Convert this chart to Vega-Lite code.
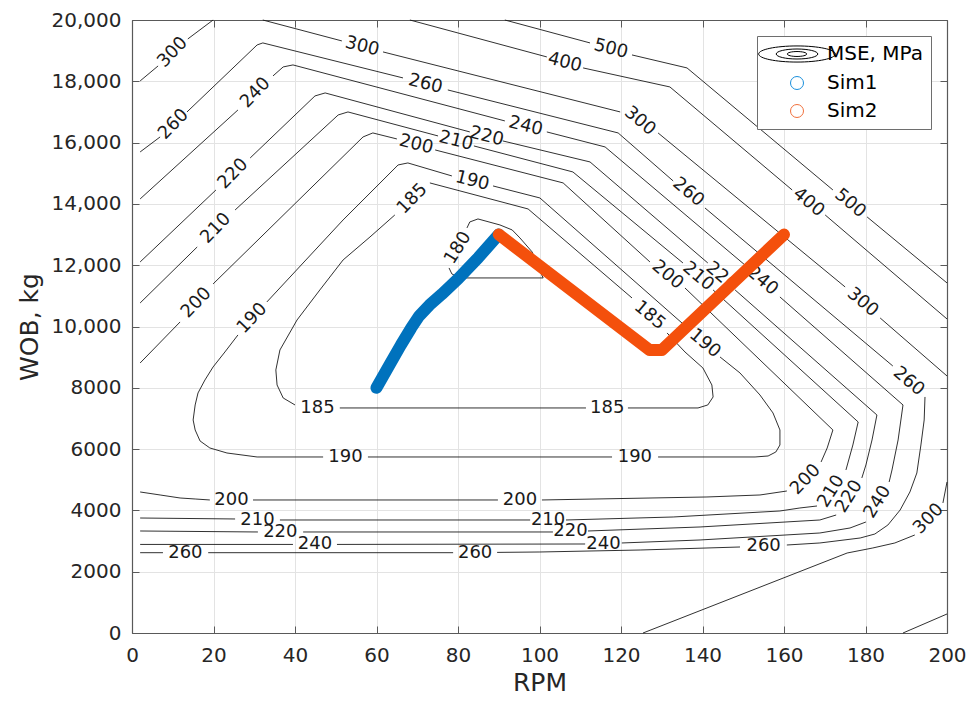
{
  "$schema": "https://vega.github.io/schema/vega-lite/v6.json",
  "width": 815,
  "height": 613,
  "autosize": {"type": "none"},
  "padding": {"left": 132, "top": 20, "right": 29, "bottom": 71},
  "background": "white",
  "config": {
    "font": "DejaVu Sans",
    "view": {"stroke": null},
    "axis": {
      "labelFont": "DejaVu Sans", "titleFont": "DejaVu Sans",
      "labelColor": "#262626", "titleColor": "#262626", "titleFontWeight": "normal",
      "domainColor": "#595959", "tickColor": "#595959", "domainWidth": 1.2, "tickWidth": 1,
      "gridColor": "#e3e3e3", "gridWidth": 1
    }
  },
  "datasets": {
    "contours": [
      {"seg":"300a","rpm":2.0,"wob":18012},{"seg":"300a","rpm":6.4,"wob":18501},
      {"seg":"300b","rpm":13.7,"wob":19382},{"seg":"300b","rpm":19.9,"wob":20000},
      {"seg":"300c","rpm":32.1,"wob":20000},{"seg":"300c","rpm":51.5,"wob":19317},
      {"seg":"300d","rpm":61.6,"wob":18958},{"seg":"300d","rpm":119.8,"wob":17000},
      {"seg":"300e","rpm":129.1,"wob":16315},{"seg":"300e","rpm":175.0,"wob":11290},
      {"seg":"300f","rpm":183.6,"wob":10278},{"seg":"300f","rpm":200,"wob":8386},
      {"seg":"300g","rpm":200,"wob":4927},{"seg":"300g","rpm":199.0,"wob":4242},
      {"seg":"300h","rpm":192.1,"wob":3198},{"seg":"300h","rpm":187.2,"wob":2937},{"seg":"300h","rpm":181.8,"wob":2774},{"seg":"300h","rpm":175.5,"wob":2610},{"seg":"300h","rpm":125.4,"wob":0},
      {"seg":"400a","rpm":68.2,"wob":20000},{"seg":"400a","rpm":101.8,"wob":18795},
      {"seg":"400b","rpm":110.7,"wob":18436},{"seg":"400b","rpm":132.0,"wob":17816},{"seg":"400b","rpm":162.0,"wob":14455},
      {"seg":"400c","rpm":170.1,"wob":13639},{"seg":"400c","rpm":200,"wob":10246},
      {"seg":"400d","rpm":189.2,"wob":0},{"seg":"400d","rpm":200,"wob":620},
      {"seg":"500a","rpm":91.5,"wob":20000},{"seg":"500a","rpm":112.4,"wob":19252},
      {"seg":"500b","rpm":122.7,"wob":18860},{"seg":"500b","rpm":136.2,"wob":18436},{"seg":"500b","rpm":172.0,"wob":14455},
      {"seg":"500c","rpm":180.4,"wob":13574},{"seg":"500c","rpm":200,"wob":11421},
      {"seg":"260a","rpm":2.0,"wob":15695},{"seg":"260a","rpm":6.9,"wob":16185},
      {"seg":"260b","rpm":13.5,"wob":17000},{"seg":"260b","rpm":30.7,"wob":19186},{"seg":"260b","rpm":32.1,"wob":19252},{"seg":"260b","rpm":66.5,"wob":18110},
      {"seg":"260c","rpm":77.5,"wob":17718},{"seg":"260c","rpm":119.3,"wob":16315},{"seg":"260c","rpm":132.8,"wob":14749},
      {"seg":"260d","rpm":140.6,"wob":13868},{"seg":"260d","rpm":186.7,"wob":8712},
      {"seg":"260e","rpm":194.6,"wob":7701},{"seg":"260e","rpm":194.4,"wob":6950},{"seg":"260e","rpm":193.6,"wob":6134},{"seg":"260e","rpm":192.6,"wob":5221},{"seg":"260e","rpm":190.9,"wob":4601},{"seg":"260e","rpm":188.5,"wob":4013},{"seg":"260e","rpm":185.5,"wob":3524},{"seg":"260e","rpm":182.3,"wob":3230},{"seg":"260e","rpm":178.7,"wob":3100},{"seg":"260e","rpm":168.8,"wob":2937},{"seg":"260e","rpm":160.7,"wob":2871},
      {"seg":"260f","rpm":149.2,"wob":2806},{"seg":"260f","rpm":124.7,"wob":2708},{"seg":"260f","rpm":100.1,"wob":2643},{"seg":"260f","rpm":89.6,"wob":2630},
      {"seg":"260g","rpm":78.8,"wob":2620},{"seg":"260g","rpm":18.7,"wob":2620},
      {"seg":"260h","rpm":7.6,"wob":2620},{"seg":"260h","rpm":2.0,"wob":2620},
      {"seg":"240a","rpm":2.0,"wob":14162},{"seg":"240a","rpm":26.0,"wob":17065},
      {"seg":"240b","rpm":34.6,"wob":18175},{"seg":"240b","rpm":37.1,"wob":18469},{"seg":"240b","rpm":39.5,"wob":18534},{"seg":"240b","rpm":91.5,"wob":16707},
      {"seg":"240c","rpm":101.8,"wob":16348},{"seg":"240c","rpm":116.1,"wob":15858},{"seg":"240c","rpm":150.4,"wob":12008},
      {"seg":"240d","rpm":159.0,"wob":10964},{"seg":"240d","rpm":189.2,"wob":7440},{"seg":"240d","rpm":188.0,"wob":6298},{"seg":"240d","rpm":186.5,"wob":5319},{"seg":"240d","rpm":185.8,"wob":4927},
      {"seg":"240e","rpm":180.1,"wob":3622},{"seg":"240e","rpm":176.2,"wob":3426},{"seg":"240e","rpm":168.8,"wob":3263},{"seg":"240e","rpm":139.4,"wob":3035},{"seg":"240e","rpm":120.2,"wob":2937},
      {"seg":"240f","rpm":111.2,"wob":2904},{"seg":"240f","rpm":50.3,"wob":2890},
      {"seg":"240g","rpm":39.5,"wob":2890},{"seg":"240g","rpm":2.0,"wob":2890},
      {"seg":"220a","rpm":2.0,"wob":12106},{"seg":"220a","rpm":20.6,"wob":14455},
      {"seg":"220b","rpm":29.0,"wob":15499},{"seg":"220b","rpm":44.9,"wob":17522},{"seg":"220b","rpm":47.4,"wob":17620},{"seg":"220b","rpm":82.9,"wob":16348},
      {"seg":"220c","rpm":91.0,"wob":16054},{"seg":"220c","rpm":112.4,"wob":15369},{"seg":"220c","rpm":141.3,"wob":12073},
      {"seg":"220d","rpm":148.0,"wob":11192},{"seg":"220d","rpm":182.8,"wob":7113},{"seg":"220d","rpm":181.6,"wob":6298},{"seg":"220d","rpm":180.1,"wob":5482},{"seg":"220d","rpm":179.1,"wob":5058},
      {"seg":"220e","rpm":172.8,"wob":3850},{"seg":"220e","rpm":168.8,"wob":3687},{"seg":"220e","rpm":139.4,"wob":3459},{"seg":"220e","rpm":111.9,"wob":3328},
      {"seg":"220f","rpm":103.3,"wob":3296},{"seg":"220f","rpm":42.0,"wob":3296},
      {"seg":"220g","rpm":30.9,"wob":3296},{"seg":"220g","rpm":2.0,"wob":3328},
      {"seg":"210a","rpm":2.0,"wob":10768},{"seg":"210a","rpm":16.0,"wob":12595},
      {"seg":"210b","rpm":25.3,"wob":13802},{"seg":"210b","rpm":50.6,"wob":16902},{"seg":"210b","rpm":53.0,"wob":17000},{"seg":"210b","rpm":75.1,"wob":16217},
      {"seg":"210c","rpm":83.9,"wob":15891},{"seg":"210c","rpm":108.2,"wob":15042},{"seg":"210c","rpm":135.2,"wob":12073},
      {"seg":"210d","rpm":142.6,"wob":11192},{"seg":"210d","rpm":178.2,"wob":6885},{"seg":"210d","rpm":176.9,"wob":6134},{"seg":"210d","rpm":175.2,"wob":5319},
      {"seg":"210e","rpm":168.1,"wob":4144},{"seg":"210e","rpm":163.9,"wob":4079},{"seg":"210e","rpm":159.0,"wob":3981},{"seg":"210e","rpm":132.8,"wob":3785},{"seg":"210e","rpm":106.5,"wob":3687},
      {"seg":"210f","rpm":97.7,"wob":3687},{"seg":"210f","rpm":36.3,"wob":3687},
      {"seg":"210g","rpm":25.3,"wob":3720},{"seg":"210g","rpm":2.0,"wob":3752},
      {"seg":"200a","rpm":2.0,"wob":8810},{"seg":"200a","rpm":11.8,"wob":10148},
      {"seg":"200b","rpm":19.9,"wob":11388},{"seg":"200b","rpm":56.7,"wob":16185},{"seg":"200b","rpm":59.1,"wob":16315},{"seg":"200b","rpm":65.0,"wob":16119},
      {"seg":"200c","rpm":74.4,"wob":15760},{"seg":"200c","rpm":105.8,"wob":14684},{"seg":"200c","rpm":127.1,"wob":12106},
      {"seg":"200d","rpm":135.7,"wob":11257},{"seg":"200d","rpm":172.0,"wob":6624},{"seg":"200d","rpm":170.6,"wob":6037},{"seg":"200d","rpm":169.1,"wob":5580},
      {"seg":"200e","rpm":160.7,"wob":4633},{"seg":"200e","rpm":154.1,"wob":4503},{"seg":"200e","rpm":141.1,"wob":4438},{"seg":"200e","rpm":100.6,"wob":4340},
      {"seg":"200f","rpm":89.8,"wob":4340},{"seg":"200f","rpm":29.7,"wob":4340},
      {"seg":"200g","rpm":19.1,"wob":4340},{"seg":"200g","rpm":15.5,"wob":4372},{"seg":"200g","rpm":11.8,"wob":4405},{"seg":"200g","rpm":6.9,"wob":4503},{"seg":"200g","rpm":2.0,"wob":4601},
      {"seg":"190a","rpm":33.1,"wob":10801},{"seg":"190a","rpm":51.8,"wob":13476},{"seg":"190a","rpm":65.3,"wob":15271},{"seg":"190a","rpm":67.7,"wob":15336},{"seg":"190a","rpm":78.5,"wob":14912},
      {"seg":"190b","rpm":88.6,"wob":14586},{"seg":"190b","rpm":100.1,"wob":14194},{"seg":"190b","rpm":136.9,"wob":9887},
      {"seg":"190c","rpm":144.3,"wob":9006},{"seg":"190c","rpm":149.2,"wob":8484},{"seg":"190c","rpm":154.1,"wob":7766},{"seg":"190c","rpm":157.3,"wob":7179},{"seg":"190c","rpm":159.0,"wob":6624},{"seg":"190c","rpm":159.0,"wob":6134},{"seg":"190c","rpm":158.0,"wob":5906},{"seg":"190c","rpm":156.1,"wob":5775},{"seg":"190c","rpm":152.9,"wob":5743},{"seg":"190c","rpm":129.1,"wob":5743},
      {"seg":"190d","rpm":117.8,"wob":5743},{"seg":"190d","rpm":57.9,"wob":5743},
      {"seg":"190e","rpm":46.9,"wob":5743},{"seg":"190e","rpm":30.7,"wob":5743},{"seg":"190e","rpm":23.3,"wob":5873},{"seg":"190e","rpm":19.1,"wob":6037},{"seg":"190e","rpm":16.7,"wob":6265},{"seg":"190e","rpm":15.5,"wob":6624},{"seg":"190e","rpm":15.0,"wob":6950},{"seg":"190e","rpm":15.5,"wob":7440},{"seg":"190e","rpm":16.2,"wob":7831},{"seg":"190e","rpm":17.9,"wob":8255},{"seg":"190e","rpm":19.9,"wob":8680},{"seg":"190e","rpm":22.8,"wob":9169},{"seg":"190e","rpm":26.0,"wob":9724},
      {"seg":"185a","rpm":73.1,"wob":14684},{"seg":"185a","rpm":97.2,"wob":13835},{"seg":"185a","rpm":122.7,"wob":10931},
      {"seg":"185b","rpm":131.3,"wob":9789},{"seg":"185b","rpm":135.7,"wob":9169},{"seg":"185b","rpm":140.1,"wob":8647},{"seg":"185b","rpm":142.3,"wob":8092},{"seg":"185b","rpm":142.6,"wob":7701},{"seg":"185b","rpm":141.3,"wob":7440},{"seg":"185b","rpm":138.9,"wob":7342},{"seg":"185b","rpm":121.7,"wob":7342},
      {"seg":"185c","rpm":111.4,"wob":7342},{"seg":"185c","rpm":51.0,"wob":7342},
      {"seg":"185d","rpm":40.0,"wob":7440},{"seg":"185d","rpm":37.1,"wob":7668},{"seg":"185d","rpm":35.6,"wob":8092},{"seg":"185d","rpm":35.3,"wob":8582},{"seg":"185d","rpm":36.3,"wob":9234},{"seg":"185d","rpm":40.5,"wob":10213},{"seg":"185d","rpm":46.1,"wob":11192},{"seg":"185d","rpm":51.8,"wob":12171},{"seg":"185d","rpm":58.4,"wob":12921},{"seg":"185d","rpm":64.5,"wob":13639},
      {"seg":"180a","rpm":77.8,"wob":11910},{"seg":"180a","rpm":78.5,"wob":11714},{"seg":"180a","rpm":80.5,"wob":11584},{"seg":"180a","rpm":100.9,"wob":11584},{"seg":"180a","rpm":99.4,"wob":12008},{"seg":"180a","rpm":98.2,"wob":12432},{"seg":"180a","rpm":95.2,"wob":12889},{"seg":"180a","rpm":93.3,"wob":13150},{"seg":"180a","rpm":90.3,"wob":13313},{"seg":"180a","rpm":84.9,"wob":13509},{"seg":"180a","rpm":82.9,"wob":13411},{"seg":"180a","rpm":82.2,"wob":13215}
    ],
    "labelsFlat": [
      {"t":"185","x":45.5,"y":7342},{"t":"185","x":116.6,"y":7342},
      {"t":"190","x":52.4,"y":5743},{"t":"190","x":123.4,"y":5743},
      {"t":"200","x":24.4,"y":4340},{"t":"200","x":95.2,"y":4340},
      {"t":"210","x":30.8,"y":3700},{"t":"210","x":102.1,"y":3687},
      {"t":"220","x":36.4,"y":3296},{"t":"220","x":107.6,"y":3312},
      {"t":"240","x":44.9,"y":2890},{"t":"240","x":115.7,"y":2920},
      {"t":"260","x":13.1,"y":2620},{"t":"260","x":84.2,"y":2625},{"t":"260","x":155.0,"y":2838}
    ],
    "labelsFall": [
      {"t":"300","x":56.5,"y":19137},{"t":"260","x":72.0,"y":17910},{"t":"240","x":96.6,"y":16530},
      {"t":"220","x":87.0,"y":16200},{"t":"210","x":79.5,"y":16054},{"t":"200","x":69.7,"y":15940},
      {"t":"190","x":83.5,"y":14749},{"t":"400","x":106.2,"y":18615},{"t":"500","x":117.5,"y":19056}
    ],
    "labelsSteep": [
      {"t":"300","x":124.6,"y":16700},{"t":"300","x":179.3,"y":10784},
      {"t":"260","x":136.5,"y":14380},{"t":"260","x":190.6,"y":8206},
      {"t":"200","x":131.4,"y":11681},{"t":"210","x":138.9,"y":11632},{"t":"220","x":144.6,"y":11632},
      {"t":"240","x":154.7,"y":11486},{"t":"185","x":127.0,"y":10360},{"t":"190","x":140.6,"y":9446},
      {"t":"400","x":166.0,"y":14047},{"t":"500","x":176.2,"y":14014}
    ],
    "labelsRise": [
      {"t":"300","x":10.0,"y":18941},{"t":"260","x":10.2,"y":16592},{"t":"240","x":30.3,"y":17620},
      {"t":"220","x":24.8,"y":14977},{"t":"210","x":20.6,"y":13198},{"t":"200","x":15.8,"y":10768},
      {"t":"190","x":29.5,"y":10262},{"t":"185","x":68.8,"y":14161},
      {"t":"200","x":165.3,"y":5000},{"t":"300","x":195.5,"y":3720}
    ],
    "labelsSteepRise": [
      {"t":"180","x":80.0,"y":12562},{"t":"210","x":171.6,"y":4620},
      {"t":"220","x":176.0,"y":4454},{"t":"240","x":183.0,"y":4275}
    ],
    "sims": [
      {"series":"Sim1","rpm":60,"wob":8000},{"series":"Sim1","rpm":63,"wob":8700},{"series":"Sim1","rpm":66,"wob":9400},
      {"series":"Sim1","rpm":68.5,"wob":9950},{"series":"Sim1","rpm":70.5,"wob":10350},{"series":"Sim1","rpm":73,"wob":10700},
      {"series":"Sim1","rpm":76,"wob":11050},{"series":"Sim1","rpm":80,"wob":11550},{"series":"Sim1","rpm":85,"wob":12250},
      {"series":"Sim1","rpm":90,"wob":13000},
      {"series":"Sim2","rpm":90,"wob":13000},{"series":"Sim2","rpm":127,"wob":9230},
      {"series":"Sim2","rpm":130,"wob":9230},{"series":"Sim2","rpm":160,"wob":13000}
    ]
  },
  "layer": [
    {
      "data": {"name": "contours"},
      "mark": {"type": "line", "color": "#1a1a1a", "strokeWidth": 0.9},
      "encoding": {
        "x": {"field": "rpm", "type": "quantitative",
          "scale": {"domain": [0, 200], "nice": false, "zero": false},
          "axis": {"orient": "bottom", "title": "RPM", "values": [0,20,40,60,80,100,120,140,160,180,200],
            "grid": true, "labelFontSize": 20, "titleFontSize": 25, "tickSize": -7,
            "labelPadding": 19, "titlePadding": 5, "labelFlush": false}},
        "y": {"field": "wob", "type": "quantitative",
          "scale": {"domain": [0, 20000], "nice": false, "zero": false},
          "axis": {"orient": "left", "title": "WOB, kg",
            "values": [0,2000,4000,6000,8000,10000,12000,14000,16000,18000,20000],
            "labelExpr": "datum.value >= 10000 ? format(datum.value, ',') : format(datum.value, 'd')",
            "grid": true, "labelFontSize": 20, "titleFontSize": 25, "tickSize": -7,
            "labelPadding": 18, "titlePadding": 9, "labelFlush": false}},
        "detail": {"field": "seg", "type": "nominal"},
        "order": {"value": null}
      }
    },
    {
      "data": {"name": "labelsFlat"},
      "mark": {"type": "text", "angle": 0, "fontSize": 18, "font": "DejaVu Sans", "color": "#1a1a1a", "align": "center", "baseline": "middle"},
      "encoding": {
        "x": {"field": "x", "type": "quantitative", "axis": null},
        "y": {"field": "y", "type": "quantitative", "axis": null},
        "text": {"field": "t", "type": "nominal"}
      }
    },
    {
      "data": {"name": "labelsFall"},
      "mark": {"type": "text", "angle": 14, "fontSize": 18, "font": "DejaVu Sans", "color": "#1a1a1a", "align": "center", "baseline": "middle"},
      "encoding": {
        "x": {"field": "x", "type": "quantitative", "axis": null},
        "y": {"field": "y", "type": "quantitative", "axis": null},
        "text": {"field": "t", "type": "nominal"}
      }
    },
    {
      "data": {"name": "labelsSteep"},
      "mark": {"type": "text", "angle": 40, "fontSize": 18, "font": "DejaVu Sans", "color": "#1a1a1a", "align": "center", "baseline": "middle"},
      "encoding": {
        "x": {"field": "x", "type": "quantitative", "axis": null},
        "y": {"field": "y", "type": "quantitative", "axis": null},
        "text": {"field": "t", "type": "nominal"}
      }
    },
    {
      "data": {"name": "labelsRise"},
      "mark": {"type": "text", "angle": -46, "fontSize": 18, "font": "DejaVu Sans", "color": "#1a1a1a", "align": "center", "baseline": "middle"},
      "encoding": {
        "x": {"field": "x", "type": "quantitative", "axis": null},
        "y": {"field": "y", "type": "quantitative", "axis": null},
        "text": {"field": "t", "type": "nominal"}
      }
    },
    {
      "data": {"name": "labelsSteepRise"},
      "mark": {"type": "text", "angle": -58, "fontSize": 18, "font": "DejaVu Sans", "color": "#1a1a1a", "align": "center", "baseline": "middle"},
      "encoding": {
        "x": {"field": "x", "type": "quantitative", "axis": null},
        "y": {"field": "y", "type": "quantitative", "axis": null},
        "text": {"field": "t", "type": "nominal"}
      }
    },
    {
      "data": {"name": "sims"},
      "transform": [{"filter": "datum.series === 'Sim1'"}],
      "mark": {"type": "line", "strokeWidth": 12, "strokeCap": "round", "strokeJoin": "round", "color": "#0072BD"},
      "encoding": {
        "x": {"field": "rpm", "type": "quantitative",
          "axis": {"orient": "top", "labels": false, "title": null, "grid": false, "tickSize": -7,
            "values": [0,20,40,60,80,100,120,140,160,180,200]}},
        "y": {"field": "wob", "type": "quantitative",
          "axis": {"orient": "right", "labels": false, "title": null, "grid": false, "tickSize": -7,
            "values": [0,2000,4000,6000,8000,10000,12000,14000,16000,18000,20000]}},
        "order": {"value": null}
      }
    },
    {
      "data": {"name": "sims"},
      "transform": [{"filter": "datum.series === 'Sim2'"}],
      "mark": {"type": "line", "strokeWidth": 12, "strokeCap": "round", "strokeJoin": "round", "color": "#F4500C"},
      "encoding": {
        "x": {"field": "rpm", "type": "quantitative", "axis": null},
        "y": {"field": "wob", "type": "quantitative", "axis": null},
        "order": {"value": null}
      }
    },
    {
      "data": {"name": "sims"},
      "mark": {"type": "point", "filled": false, "opacity": 0, "strokeWidth": 1, "size": 169},
      "encoding": {
        "x": {"field": "rpm", "type": "quantitative", "axis": null},
        "y": {"field": "wob", "type": "quantitative", "axis": null},
        "color": {"field": "series", "type": "nominal",
          "scale": {"domain": ["MSE, MPa", "Sim1", "Sim2"], "range": ["#000000", "#1a8fdc", "#f0703c"]},
          "legend": {"title": null, "orient": "top-right", "offset": 16, "fillColor": "white", "strokeColor": "#6e6e6e",
            "padding": 8, "labelFont": "DejaVu Sans", "labelFontSize": 20, "labelColor": "#000000",
            "symbolSize": 169, "symbolStrokeWidth": 1, "symbolOpacity": 1, "rowPadding": 8,
            "symbolOffset": 22, "labelOffset": 20}},
        "shape": {"field": "series", "type": "nominal",
          "scale": {"domain": ["MSE, MPa", "Sim1", "Sim2"],
            "range": ["M-5.9,0A5.9,1.24,0,1,0,5.9,0A5.9,1.24,0,1,0,-5.9,0ZM-3.2,0A3.2,0.77,0,1,0,3.2,0A3.2,0.77,0,1,0,-3.2,0ZM-1.5,0A1.5,0.38,0,1,0,1.5,0A1.5,0.38,0,1,0,-1.5,0Z", "circle", "circle"]},
          "legend": {"title": null, "orient": "top-right", "offset": 16, "fillColor": "white", "strokeColor": "#6e6e6e",
            "padding": 8, "labelFont": "DejaVu Sans", "labelFontSize": 20, "labelColor": "#000000",
            "symbolSize": 169, "symbolStrokeWidth": 1, "symbolOpacity": 1, "rowPadding": 8,
            "symbolOffset": 22, "labelOffset": 20}}
      }
    }
  ],
  "resolve": {"axis": {"x": "independent", "y": "independent"}}
}
